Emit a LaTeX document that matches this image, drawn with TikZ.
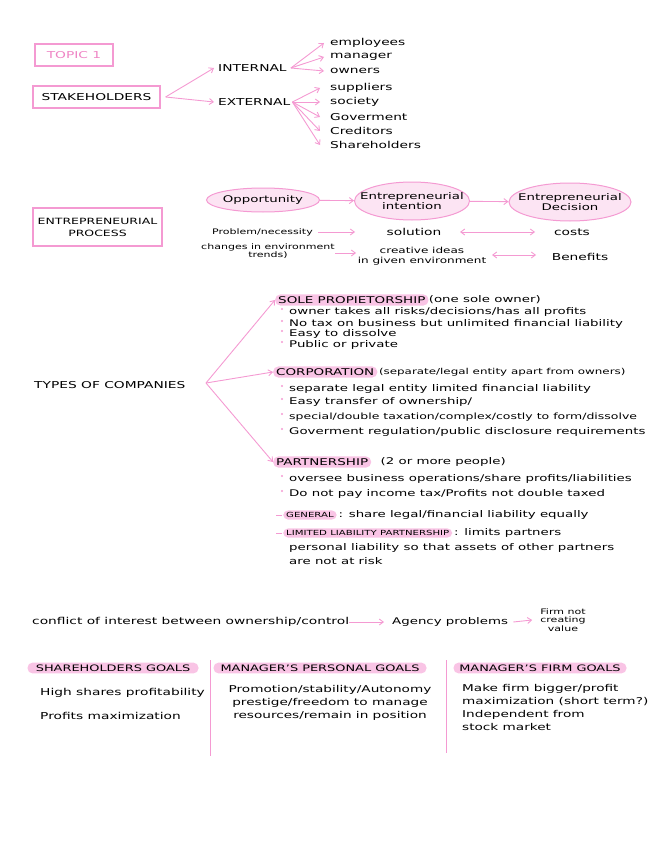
\documentclass[tikz,border=0pt]{standalone}
\usepackage{fontspec}
\setmainfont[FakeStretch=1.45]{DejaVu Sans}
\usetikzlibrary{shapes.geometric,arrows.meta}
\definecolor{pk}{HTML}{F49AD2}
\definecolor{pkfill}{HTML}{F9C4E5}
\definecolor{pktext}{HTML}{EE84C4}
\tikzset{
 txt/.style={anchor=west,inner sep=0pt,font=\fontsize{9.5}{11}\selectfont,align=left},
 ctr/.style={inner sep=0pt,font=\fontsize{9.5}{11}\selectfont,align=center},
 sm/.style={inner sep=0pt,font=\fontsize{7.6}{8.5}\selectfont,align=center},
 box/.style={draw=pk,line width=1.2pt,inner sep=0pt,font=\fontsize{9.5}{11.5}\selectfont,align=center},
 hl/.style={anchor=west,fill=pkfill,rounded corners=5pt,inner xsep=3pt,inner ysep=2pt,font=\fontsize{9.3}{10}\selectfont},
 ell/.style={ellipse,draw=pk,fill=pkfill!45,line width=1pt,inner sep=0pt},
 etx/.style={inner sep=0pt,font=\fontsize{9.2}{9.5}\selectfont,align=center},
 bt/.style={anchor=west,inner sep=0pt,font=\fontsize{9.2}{11}\selectfont},
 arr/.style={draw=pk,line width=0.9pt,-{Straight Barb[length=4pt,width=6pt]}},
 darr/.style={draw=pk,line width=0.9pt,{Straight Barb[length=4pt,width=6pt]}-{Straight Barb[length=4pt,width=6pt]}},
 bul/.style={fill=pk,circle,inner sep=0.8pt},
 div/.style={draw=pk,line width=1pt}
}
\begin{document}
\begin{tikzpicture}[x=1pt,y=-1pt]
\useasboundingbox (0,0) rectangle (656,848);
% stakeholders
\node[box,minimum width=78,minimum height=22,text=pktext] (topic) at (74,55) {TOPIC 1};
\node[box,minimum width=127,minimum height=22] (stake) at (96.5,97) {STAKEHOLDERS};
\node[txt] (int) at (218,68) {INTERNAL};
\node[txt] (ext) at (218,102) {EXTERNAL};
\draw[arr] ([xshift=5pt]stake.east) -- ([xshift=-4pt]int.west);
\draw[arr] ([xshift=5pt]stake.east) -- ([xshift=-4pt]ext.west);
\foreach \n/\t/\y in {e1/employees/43,e2/manager/57,e3/owners/71}{
 \node[txt] (\n) at (330,\y) {\t};
 \draw[arr] ([xshift=4pt]int.east) -- ([xshift=-6pt]\n.west);}
\foreach \n/\t/\y in {x1/suppliers/88,x2/society/102,x3/Goverment/117,x4/Creditors/131,x5/Shareholders/145}{
 \node[txt] (\n) at (330,\y) {\t};
 \draw[arr] ([xshift=2pt]ext.east) -- ([xshift=-10pt]\n.west);}
% entrepreneurial process
\node[box,minimum width=129,minimum height=38,font=\fontsize{8.6}{12}\selectfont] (ep) at (97.5,227) {ENTREPRENEURIAL\\PROCESS};
\node[ell,minimum width=113,minimum height=24] (opp) at (263,200) {};
\node[etx] at (opp) {Opportunity};
\node[ell,minimum width=115,minimum height=38] (inten) at (412,201) {};
\node[etx] at (inten) {Entrepreneurial\\intention};
\node[ell,minimum width=122,minimum height=38] (dec) at (570,202) {};
\node[etx] at (dec) {Entrepreneurial\\Decision};
\draw[arr] (opp) -- (inten);
\draw[arr] (inten) -- (dec);
\node[sm,anchor=east] (prob) at (313,232) {Problem/necessity};
\node[ctr] (sol) at (414,232) {solution};
\node[ctr] (cost) at (572,232) {costs};
\draw[arr] ([xshift=5pt]prob.east) -- (355,232);
\draw[darr] (460,232) -- (535,232);
\node[sm] (chg) at (268,251) {changes in environment\\trends)};
\node[sm,font=\fontsize{8.3}{10}\selectfont] (cre) at (422,256) {creative ideas\\in given environment};
\node[ctr] (ben) at (580,257) {Benefits};
\draw[arr] (335,253) -- (356,253);
\draw[darr] (492,255) -- (536,255);
% types of companies
\node[txt] (toc) at (34,385) {TYPES OF COMPANIES};
\coordinate (tc) at (206,383);
\node[hl] (sole) at (275,300) {SOLE PROPIETORSHIP};
\node[bt,anchor=west] at (sole.east) {(one sole owner)};
\node[hl] (corp) at (273,372) {CORPORATION};
\node[bt,anchor=west,font=\fontsize{8.2}{9}\selectfont] at (corp.east) {\,(separate/legal entity apart from owners)};
\node[hl] (part) at (273,462) {PARTNERSHIP};
\node[bt,anchor=west] at (part.east) {\quad(2 or more people)};
\draw[arr] (tc) -- (sole.west);
\draw[arr] (tc) -- (corp.west);
\draw[arr] (tc) -- (part.west);
\foreach \y/\t in {312/{owner takes all risks/decisions/has all profits},
 324/{No tax on business but unlimited financial liability},
 334/{Easy to dissolve},345/{Public or private},
 389/{separate legal entity limited financial liability},
 402/{Easy transfer of ownership/},
 417/{\fontsize{8.6}{10}\selectfont special/double taxation/complex/costly to form/dissolve},
 432/{Goverment regulation/public disclosure requirements},
 479/{oversee business operations/share profits/liabilities},
 494/{Do not pay income tax/Profits not double taxed}}{
 \node[bul] at (282,\y-3) {};
 \node[bt] at (289,\y) {\t};}
\draw[div] (276,515) -- (282,515);
\node[hl,font=\fontsize{7}{8}\selectfont] (gen) at (283,515) {GENERAL};
\node[bt] at (gen.east) {\,: share legal/financial liability equally};
\draw[div] (276,533) -- (282,533);
\node[hl,font=\fontsize{7}{8}\selectfont] (llp) at (283,533) {LIMITED LIABILITY PARTNERSHIP};
\node[bt] at (llp.east) {\,: limits partners};
\node[bt] at (289,548) {personal liability so that assets of other partners};
\node[bt] at (289,561) {are not at risk};
% agency
\node[txt] (conf) at (32,622) {conflict of interest between ownership/control};
\node[bt] (ag) at (392,622) {Agency problems};
\node[sm] (firm) at (563,620) {Firm not\\creating\\value};
\draw[arr] (conf.east) -- ([xshift=-8pt]ag.west);
\draw[arr] ([xshift=5pt]ag.east) -- ([xshift=-8pt]firm.west);
% goals
\node[hl,minimum width=171,anchor=center,font=\fontsize{8.9}{10}\selectfont] (g1) at (113,668) {SHAREHOLDERS GOALS};
\node[hl,minimum width=213,anchor=center,font=\fontsize{8.9}{10}\selectfont] (g2) at (320,668) {MANAGER'S PERSONAL GOALS};
\node[hl,minimum width=173,anchor=center,font=\fontsize{8.9}{10}\selectfont] (g3) at (540,668) {MANAGER'S FIRM GOALS};
\draw[div] (210,660) -- (210,756);
\draw[div] (446,660) -- (446,753);
\node[txt] at (40,693) {High shares profitability};
\node[txt] at (40,716) {Profits maximization};
\node[txt,align=center,anchor=north,font=\fontsize{9.4}{13}\selectfont] at (330,685) {Promotion/stability/Autonomy\\prestige/freedom to manage\\resources/remain in position};
\node[txt,anchor=north west,font=\fontsize{9.4}{13}\selectfont] at (462,684) {Make firm bigger/profit\\maximization (short term?)\\Independent from\\stock market};
\end{tikzpicture}
\end{document}
